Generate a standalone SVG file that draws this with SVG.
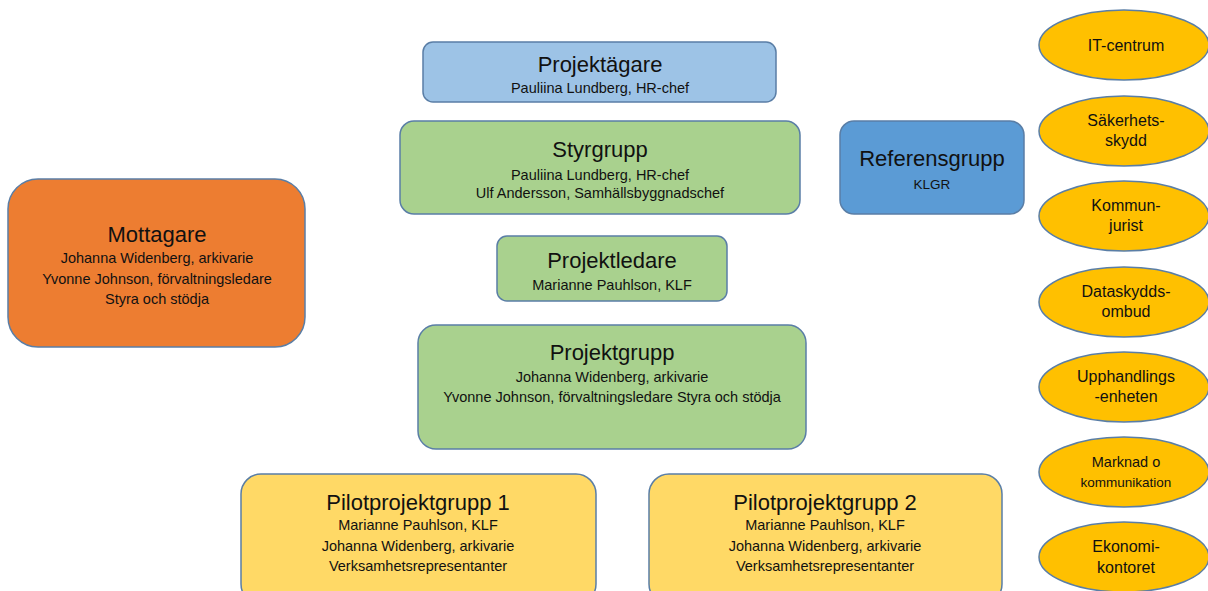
<svg xmlns="http://www.w3.org/2000/svg" width="1208" height="591" viewBox="0 0 1208 591">
<style>
.box{stroke:#5A7EA6;stroke-width:1.5}
.el{fill:#FFC000;stroke:#5A7EA6;stroke-width:1.5}
text{font-family:"Liberation Sans",Arial,sans-serif;fill:#111;text-anchor:middle}
.t{font-size:22px}
.s{font-size:14.5px}
.e{font-size:16px}
</style>
<rect width="1208" height="591" fill="#fff"/>
<g id="projektagare">
<rect class="box" x="423" y="42" width="353" height="60" rx="10" fill="#9DC3E6"/>
<text class="t" x="600" y="72">Projektägare</text>
<text class="s" x="600" y="93">Pauliina Lundberg, HR-chef</text>
</g>
<g id="styrgrupp">
<rect class="box" x="400" y="121" width="400" height="93" rx="14" fill="#A9D18E"/>
<text class="t" x="600" y="157">Styrgrupp</text>
<text class="s" x="600" y="180">Pauliina Lundberg, HR-chef</text>
<text class="s" x="600" y="198">Ulf Andersson, Samhällsbyggnadschef</text>
</g>
<g id="referensgrupp">
<rect class="box" x="840" y="121" width="184" height="93" rx="14" fill="#5B9BD5"/>
<text class="t" x="932" y="166">Referensgrupp</text>
<text class="s" x="932" y="189" style="font-size:13.5px">KLGR</text>
</g>
<g id="mottagare">
<rect class="box" x="8" y="179" width="297" height="168" rx="30" fill="#ED7D31"/>
<text class="t" x="157" y="242">Mottagare</text>
<text class="s" x="157" y="263">Johanna Widenberg, arkivarie</text>
<text class="s" x="157" y="284">Yvonne Johnson, förvaltningsledare</text>
<text class="s" x="157" y="304">Styra och stödja</text>
</g>
<g id="projektledare">
<rect class="box" x="497" y="236" width="230" height="65" rx="10" fill="#A9D18E"/>
<text class="t" x="612" y="268">Projektledare</text>
<text class="s" x="612" y="290">Marianne Pauhlson, KLF</text>
</g>
<g id="projektgrupp">
<rect class="box" x="418" y="325" width="388" height="124" rx="18" fill="#A9D18E"/>
<text class="t" x="612" y="360">Projektgrupp</text>
<text class="s" x="612" y="382">Johanna Widenberg, arkivarie</text>
<text class="s" x="612" y="402">Yvonne Johnson, förvaltningsledare Styra och stödja</text>
</g>
<g id="pilot1">
<rect class="box" x="241" y="474" width="355" height="130" rx="20" fill="#FFD966"/>
<text class="t" x="418" y="510">Pilotprojektgrupp 1</text>
<text class="s" x="418" y="530">Marianne Pauhlson, KLF</text>
<text class="s" x="418" y="551">Johanna Widenberg, arkivarie</text>
<text class="s" x="418" y="571">Verksamhetsrepresentanter</text>
</g>
<g id="pilot2">
<rect class="box" x="649" y="474" width="353" height="130" rx="20" fill="#FFD966"/>
<text class="t" x="825" y="510">Pilotprojektgrupp 2</text>
<text class="s" x="825" y="530">Marianne Pauhlson, KLF</text>
<text class="s" x="825" y="551">Johanna Widenberg, arkivarie</text>
<text class="s" x="825" y="571">Verksamhetsrepresentanter</text>
</g>
<g id="it-centrum">
<ellipse class="el" cx="1124" cy="45" rx="85" ry="35"/>
<text class="e" x="1126" y="51">IT-centrum</text>
</g>
<g id="sakerhetsskydd">
<ellipse class="el" cx="1124" cy="131" rx="85" ry="35"/>
<text class="e" x="1126" y="126">Säkerhets-</text>
<text class="e" x="1126" y="146">skydd</text>
</g>
<g id="kommunjurist">
<ellipse class="el" cx="1124" cy="216" rx="85" ry="35"/>
<text class="e" x="1126" y="211">Kommun-</text>
<text class="e" x="1126" y="231">jurist</text>
</g>
<g id="dataskyddsombud">
<ellipse class="el" cx="1124" cy="302" rx="85" ry="35"/>
<text class="e" x="1126" y="297">Dataskydds-</text>
<text class="e" x="1126" y="317">ombud</text>
</g>
<g id="upphandlingsenheten">
<ellipse class="el" cx="1124" cy="387" rx="85" ry="35"/>
<text class="e" x="1126" y="382">Upphandlings</text>
<text class="e" x="1126" y="402">-enheten</text>
</g>
<g id="marknad">
<ellipse class="el" cx="1124" cy="472" rx="85" ry="35"/>
<text class="e" x="1126" y="467" style="font-size:14.5px">Marknad o</text>
<text class="e" x="1126" y="487" style="font-size:13.5px">kommunikation</text>
</g>
<g id="ekonomikontoret">
<ellipse class="el" cx="1124" cy="557" rx="85" ry="35"/>
<text class="e" x="1126" y="552">Ekonomi-</text>
<text class="e" x="1126" y="573">kontoret</text>
</g>
<g id="connectors"></g>
</svg>
